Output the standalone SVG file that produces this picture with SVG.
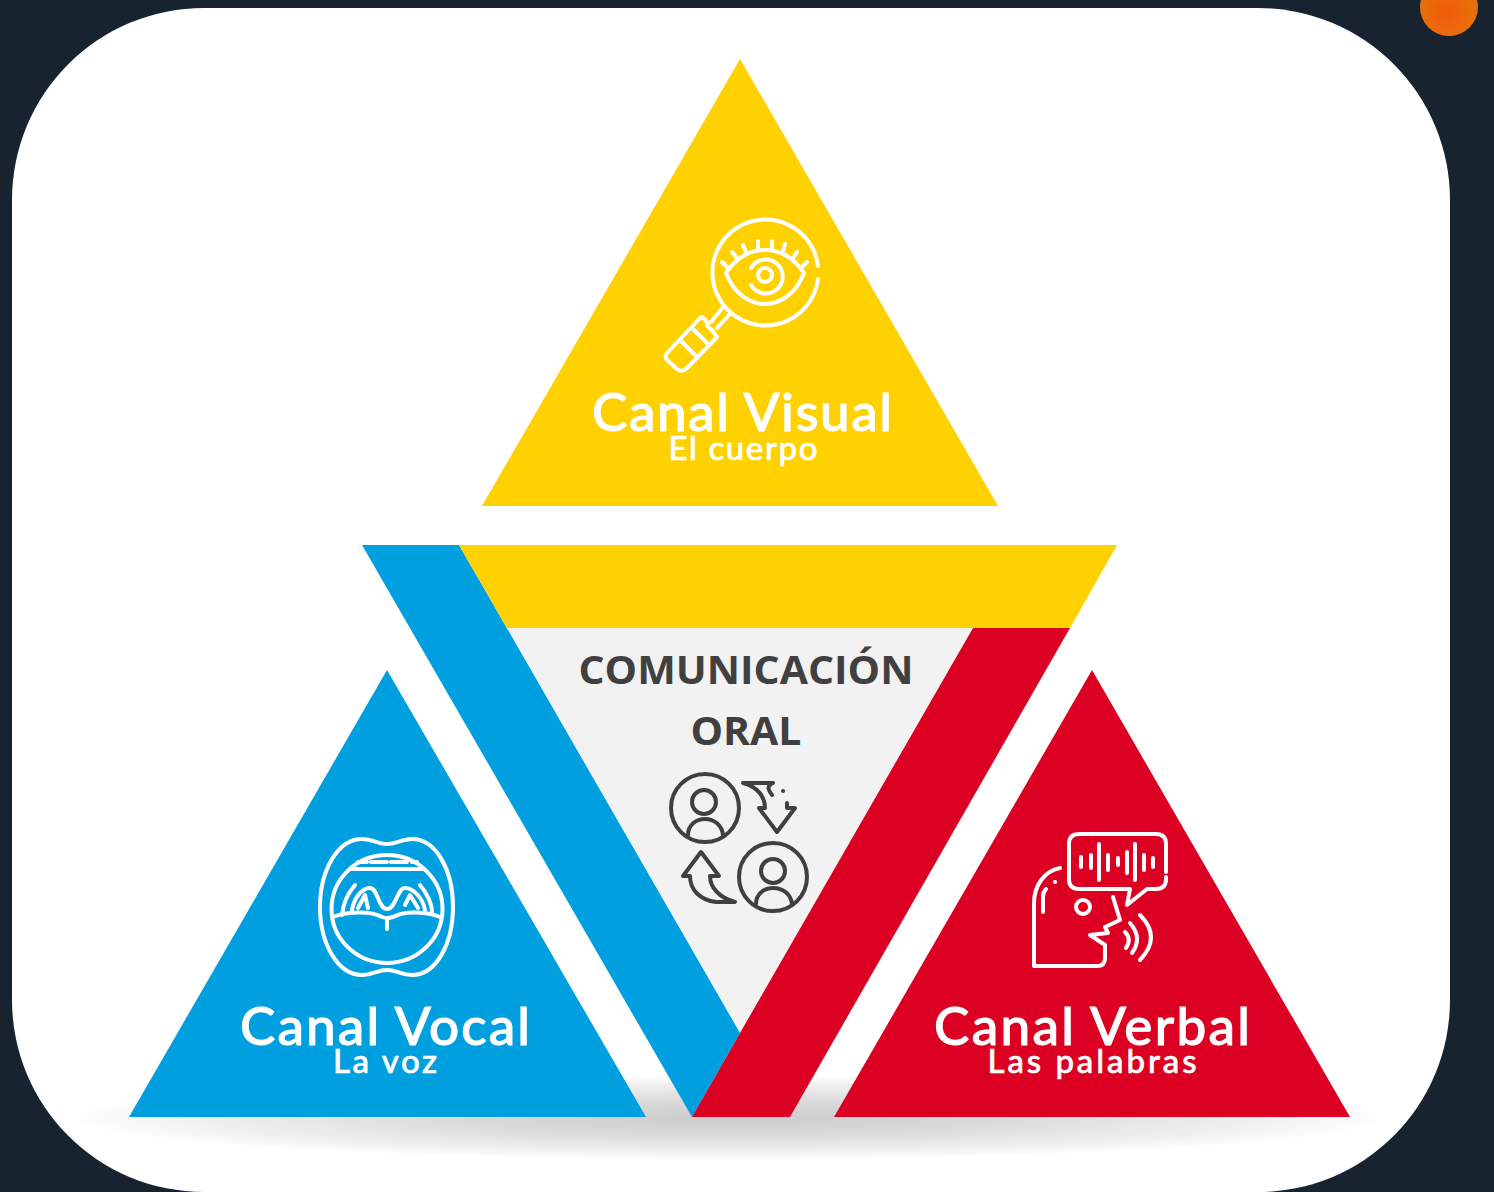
<svg xmlns="http://www.w3.org/2000/svg" width="1494" height="1192" viewBox="0 0 1494 1192">
<style>
.ic{fill:none;stroke:#fff;stroke-width:4;stroke-linecap:round;stroke-linejoin:round}
.ig{fill:none;stroke:#404040;stroke-width:4;stroke-linecap:round;stroke-linejoin:round}
.h{font-family:"Lato","Noto Sans",sans-serif;font-size:53px;font-weight:500;fill:#fff;stroke:#fff;stroke-width:1;text-anchor:middle}
.s{font-family:"Lato","Noto Sans",sans-serif;font-size:33px;font-weight:500;fill:#fff;stroke:#fff;stroke-width:.6;text-anchor:middle}
.t{font-family:"Open Sans","Liberation Sans",sans-serif;font-size:40px;font-weight:700;fill:#404040;text-anchor:middle}
</style>
<defs>
<radialGradient id="shadow" cx=".5" cy=".5" r=".5">
<stop offset="0" stop-color="#cbcbcb"/><stop offset=".4" stop-color="#dadada"/><stop offset=".8" stop-color="#f0f0f0"/><stop offset="1" stop-color="#fff"/>
</radialGradient>
<radialGradient id="sun" cx=".45" cy=".6" r=".6">
<stop offset="0" stop-color="#f15a0a"/><stop offset=".8" stop-color="#e8700a"/><stop offset="1" stop-color="#c8742c"/>
</radialGradient>
</defs>
<rect id="background" width="1494" height="1192" fill="#17242f"/>
<circle id="sun-dot" cx="1449" cy="7" r="29" fill="url(#sun)"/>
<rect id="panel" x="12" y="8" width="1438" height="1184" rx="192" ry="192" fill="#fff"/>
<ellipse id="ground-shadow" cx="728" cy="1118" rx="662" ry="42" fill="url(#shadow)"/>

<g id="centre">
<polygon points="507,628 973,628 740,1033" fill="#f2f2f2"/>
<polygon points="362,545 459,545 740,1033 692,1117" fill="#009fe0"/>
<polygon points="459,545 1117,545 1070,628 507,628" fill="#ffd100"/>
<polygon points="740,1033 973,628 1070,628 790,1117 692,1117" fill="#dc0022"/>
<text class="t" x="746" y="684" textLength="335" lengthAdjust="spacingAndGlyphs">COMUNICACIÓN</text>
<text class="t" x="746" y="745" textLength="111" lengthAdjust="spacingAndGlyphs">ORAL</text>
<g class="ig">
<circle cx="705" cy="808" r="34"/><circle cx="704" cy="802" r="12"/>
<path d="M688 835C688 825 696 819 705 819C714 819 722 825 723 835"/>
<circle cx="773" cy="877" r="34"/><circle cx="773" cy="871" r="12"/>
<path d="M756 904C756 894 764 888 773 888C783 888 791 894 792 904"/>
<path d="M743 783H773M743 783C758 787 765 797 765 808H759L777 832L795 808H787V803M773 783Q766 786 770 792L772 795"/>
<path d="M783 791h.1"/>
<path d="M735 902H716C700 900 690 890 690 876H683L701 852L719 876H710C710 888 720 898 735 902Z"/>
</g>
</g>

<g id="canal-visual">
<polygon points="740,59 482,506 998,506" fill="#ffd100"/>
<g class="ic">
<path d="M818 266A53 53 0 1 0 818 279"/>
<path d="M726 273C736 258 750 250 765 250C780 250 794 258 804 273C796 294 780 304 765 304C750 304 734 294 726 273Z"/>
<circle cx="765" cy="275" r="7"/>
<path d="M751 268A17 17 0 1 1 751 285"/>
<path d="M722 262l6 6M732 252l5 6M743 245l3 7M758 241v7M772 241v7M785 244l-2 7M797 252l-4 6M807 262l-6 6"/>
<path d="M723 307L711 322M729 315L717 328"/>
<path d="M700 318L668 352Q663 357 668 361L677 369Q682 373 687 368L717 337L711 329Q706 327 708 323L704 319Q702 316 700 318Z"/>
<path d="M680 340L695 355M692 328L707 343"/>
</g>
<text class="h" x="742" y="431" textLength="300" lengthAdjust="spacing">Canal Visual</text>
<text class="s" x="743" y="460" textLength="149" lengthAdjust="spacing">El cuerpo</text>
</g>

<g id="canal-vocal">
<polygon points="387,670 129,1117 646,1117" fill="#009fe0"/>
<g class="ic">
<path d="M387 844C378 844 372 839 362 839C338 839 320 870 320 907C320 944 338 975 362 975C372 975 378 970 387 970C396 970 402 975 412 975C436 975 453 944 453 907C453 870 436 839 412 839C402 839 396 844 387 844Z"/>
<ellipse cx="387" cy="909" rx="55.5" ry="54"/>
<path d="M352 869H422M358 862h9M371 862h16M391 862h16M412 862h5"/>
<path d="M333 917C345 912 370 910 382 917Q387 919 393 917C405 910 428 912 440 917"/>
<path d="M387 919V929"/>
<path d="M355 885C348 893 343 904 342 915M420 885C427 893 432 904 432 913"/>
<path d="M352 910C354 898 362 888 370 888C378 888 378 909 387 909C396 909 397 888 405 888C413 888 423 898 425 910"/>
<path d="M358 908L365 895L368 908M405 905L410 895L418 908"/>
</g>
<text class="h" x="385" y="1045" textLength="290" lengthAdjust="spacing">Canal Vocal</text>
<text class="s" x="385" y="1073" textLength="104" lengthAdjust="spacing">La voz</text>
</g>

<g id="canal-verbal">
<polygon points="1092,670 834,1117 1350,1117" fill="#dc0022"/>
<g class="ic">
<path d="M1166 872V844Q1166 834 1156 834H1079Q1069 834 1069 844V879Q1069 889 1079 889H1130L1127 905L1147 889H1156Q1166 889 1166 879V877"/>
<path d="M1081 857V867M1091 855V868M1099 844V880M1108 855V870M1118 858V865M1127 852V873M1135 844V880M1144 855V870M1153 858V867"/>
<path d="M1060 868C1044 871 1034 886 1034 903V966H1097Q1105 966 1105 958V945L1090 935L1108 933L1105 927L1120 920L1113 897"/>
<path d="M1055 882h.1M1043 912V897Q1043 892 1046 889"/>
<circle cx="1083" cy="907" r="7"/>
<path d="M1125 932Q1132 939 1126 948M1130 923Q1143 938 1132 953M1140 915Q1162 937 1140 960"/>
</g>
<text class="h" x="1092" y="1045" textLength="316" lengthAdjust="spacing">Canal Verbal</text>
<text class="s" x="1092" y="1073" textLength="209" lengthAdjust="spacing">Las palabras</text>
</g>
</svg>
